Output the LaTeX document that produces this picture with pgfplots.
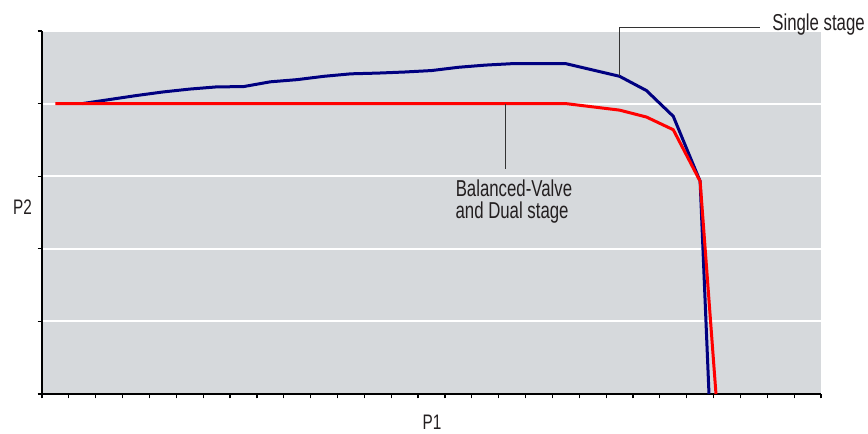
\documentclass[border=0pt]{standalone}
\usepackage{pgfplots}
\pgfplotsset{compat=1.18}
\usepackage{fontspec}
\setmainfont[FakeStretch=0.73]{Liberation Sans}
\definecolor{bg}{RGB}{214,217,220}
\definecolor{navy}{RGB}{0,0,128}
\definecolor{txt}{RGB}{35,31,32}
\begin{document}
\begin{tikzpicture}[x=1bp,y=1bp]
\useasboundingbox (0,0) rectangle (868,434);
\begin{axis}[at={(42bp,40bp)}, anchor=south west, scale only axis,
  width=779bp, height=363bp,
  xmin=0, xmax=29, ymin=0, ymax=5,
  axis x line=bottom, axis y line=left,
  axis line style={line width=1.8bp,-},
  xtick={0,...,29}, ytick={0,...,5},
  xticklabels={}, yticklabels={},
  tick align=outside, major tick length=4.5bp,
  tick style={line width=1.2bp,black},
  ymajorgrids, grid style={white,line width=2bp},
  axis background/.style={fill=bg},
  clip=false]
\addplot[navy, line width=3bp, line join=round] coordinates {
  (1.5,4.0) (2.5,4.055) (3.5,4.11) (4.5,4.16) (5.5,4.20) (6.5,4.23)
  (7.5,4.234) (8.5,4.30) (9.5,4.33) (10.5,4.376) (11.5,4.41) (12.5,4.42)
  (13.5,4.435) (14.5,4.455) (15.5,4.50) (16.5,4.53) (17.5,4.55) (18.5,4.55)
  (19.5,4.55) (21.5,4.376) (22.5,4.18) (23.5,3.825) (24.5,2.93) (24.83,0)
};
\addplot[red, line width=3bp, line join=round] coordinates {
  (0.5,4.0) (1.5,4.0) (2.5,4.0) (3.5,4.0) (4.5,4.0) (5.5,4.0) (6.5,4.0)
  (7.5,4.0) (8.5,4.0) (9.5,4.0) (10.5,4.0) (11.5,4.0) (12.5,4.0) (13.5,4.0)
  (14.5,4.0) (15.5,4.0) (16.5,4.0) (17.5,4.0) (18.5,4.0) (19.5,4.0)
  (21.5,3.91) (22.5,3.815) (23.5,3.64) (24.5,2.93) (25.09,0)
};
\draw[black!80, line width=0.8bp] (axis cs:21.5,4.376) -- (axis cs:21.5,5.05) -- (axis cs:26.73,5.05);
\node[anchor=base west, inner sep=0, text=txt, font=\fontsize{23bp}{26bp}\selectfont] at (axis cs:27.18,5.006) {Single stage};
\draw[black!80, line width=0.8bp] (axis cs:17.24,4.0) -- (axis cs:17.24,3.095);
\node[anchor=base, inner sep=0, text=txt, font=\fontsize{23bp}{26bp}\selectfont] at (axis cs:17.57,2.723) {Balanced-Valve};
\node[anchor=base, inner sep=0, text=txt, font=\fontsize{23bp}{26bp}\selectfont] at (axis cs:17.5,2.42) {and Dual stage};
\end{axis}
\node[anchor=base, inner sep=0, text=txt, font=\fontsize{21bp}{24bp}\selectfont] at (22.5,219) {P2};
\node[anchor=base, inner sep=0, text=txt, font=\fontsize{21bp}{24bp}\selectfont] at (432,4.5) {P1};
\end{tikzpicture}
\end{document}
